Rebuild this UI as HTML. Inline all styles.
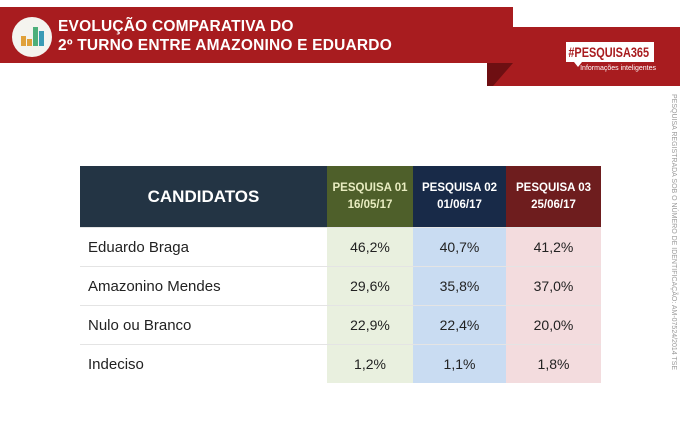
<!DOCTYPE html>
<html><head><meta charset="utf-8"><style>
body{margin:0;width:680px;height:446px;background:#fff;position:relative;overflow:hidden;font-family:"Liberation Sans",sans-serif}
.a{position:absolute}
table{border-collapse:collapse;position:absolute;left:80px;top:166px}
td{padding:0;font-size:15px;color:#222}
.h td{height:61px;color:#fff;font-weight:bold;text-align:center}
.r td{height:38px;border-top:1px solid #e4e4e4}
.r td.n{padding-left:8px;text-align:left}
.r td{text-align:center;font-size:14px}
.g{background:#e9f0df}.b{background:#c9dcf2}.p{background:#f3dcde}
</style></head><body>
<div class="a" style="left:0;top:7px;width:513px;height:56px;background:#a81c1f"></div>
<div class="a" style="left:487px;top:27px;width:193px;height:59px;background:#a81c1f"></div>
<svg class="a" style="left:487px;top:63px" width="26" height="23"><polygon points="0,0 26,0 6,23 0,23" fill="#6e0f12"/></svg>
<div class="a" style="left:12px;top:17px;width:40px;height:40px;border-radius:50%;background:#f4f4ef"></div>
<div class="a" style="left:21px;top:36px;width:5px;height:10px;background:#e0a13a"></div>
<div class="a" style="left:27px;top:39px;width:5px;height:7px;background:#e0a13a"></div>
<div class="a" style="left:33px;top:27px;width:5px;height:19px;background:#4caf7a"></div>
<div class="a" style="left:39px;top:31px;width:5px;height:15px;background:#3a9bb5"></div>
<div class="a" style="left:58px;top:17px;color:#fff;font-weight:bold;font-size:15.5px;line-height:19px;letter-spacing:0.2px">EVOLUÇÃO COMPARATIVA DO<br>2º TURNO ENTRE AMAZONINO E EDUARDO</div>
<div class="a" style="left:566px;top:42px;width:88px;height:20px;background:#fff;overflow:hidden"><div style="color:#a81c1f;font-weight:bold;font-size:14px;line-height:20px;white-space:nowrap;transform-origin:0 0;transform:scaleX(0.78);padding-left:3px">#PESQUISA365</div></div>
<div class="a" style="left:574px;top:62px;width:0;height:0;border-left:4px solid transparent;border-right:4px solid transparent;border-top:5px solid #fff"></div>
<div class="a" style="left:566px;top:65px;width:90px;color:#fff;font-size:7px;text-align:right">Informações inteligentes</div>
<div class="a" style="left:669px;top:94px;width:310px;transform-origin:0 0;transform:rotate(90deg) translate(0,-8px);color:#999;font-size:7px;white-space:nowrap">PESQUISA REGISTRADA SOB O NÚMERO DE IDENTIFICAÇÃO: AM-07524/2014 TSE</div>
<table>
<tr class="h"><td style="width:247px;background:#233444;font-size:17px">CANDIDATOS</td><td style="width:86px;background:#4e5f2a;color:#e8ecc0;font-size:11.5px;line-height:17px">PESQUISA 01<br>16/05/17</td><td style="width:93px;background:#182a48;font-size:11.5px;line-height:17px">PESQUISA 02<br>01/06/17</td><td style="width:95px;background:#6e1d1e;font-size:11.5px;line-height:17px">PESQUISA 03<br>25/06/17</td></tr>
<tr class="r"><td class="n" style="font-size:15px">Eduardo Braga</td><td class="g">46,2%</td><td class="b">40,7%</td><td class="p">41,2%</td></tr>
<tr class="r"><td class="n" style="font-size:15px">Amazonino Mendes</td><td class="g">29,6%</td><td class="b">35,8%</td><td class="p">37,0%</td></tr>
<tr class="r"><td class="n" style="font-size:15px">Nulo ou Branco</td><td class="g">22,9%</td><td class="b">22,4%</td><td class="p">20,0%</td></tr>
<tr class="r"><td class="n" style="font-size:15px">Indeciso</td><td class="g">1,2%</td><td class="b">1,1%</td><td class="p">1,8%</td></tr>
</table>
</body></html>
